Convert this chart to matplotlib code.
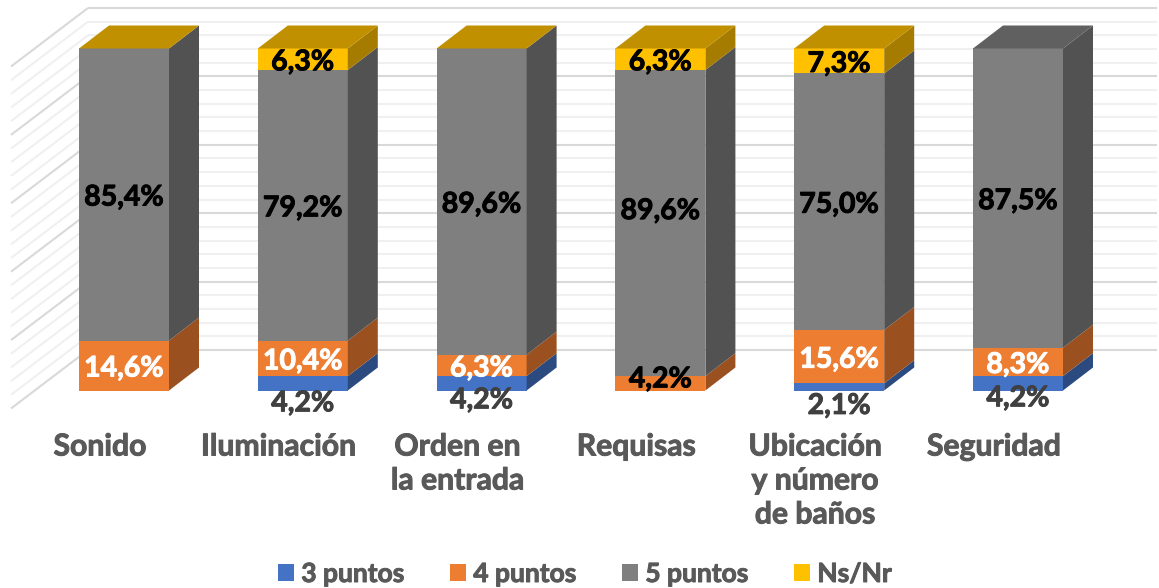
import matplotlib
matplotlib.use('Agg')
import matplotlib.pyplot as plt
import matplotlib.patheffects as pe
from matplotlib.patches import Polygon, Patch
import numpy as np

# datos (nan = la serie no existe en esa categoria, 0 = existe pero sin altura)
categorias = ['Sonido', 'Iluminación', 'Orden en\nla entrada', 'Requisas',
              'Ubicación\ny número\nde baños', 'Seguridad']
series = ['3 puntos', '4 puntos', '5 puntos', 'Ns/Nr']
tres_puntos = [0, 4.2, 4.2, 0, 2.1, 4.2]
cuatro_puntos = [14.6, 10.4, 6.3, 4.2, 15.6, 8.3]
cinco_puntos = [85.4, 79.2, 89.6, 89.6, 75.0, 87.5]
ns_nr = [0, 6.3, 0, 6.3, 7.3, np.nan]

# colores: frente, lado, tapa
frente = ['#4472C4', '#ED7D31', '#7F7F7F', '#FFC000']
lado = ['#2A4A80', '#9A501F', '#525252', '#A67C00']
tapa = ['#34589A', '#BC6325', '#606060', '#C09000']

PX_X = 178.8   # pixeles por categoria
PX_Y = 3.42    # pixeles por punto porcentual
X0, Y0 = 124, 390.5

fig = plt.figure(figsize=(11.59, 5.88), dpi=100)
ax = fig.add_axes([0, 0, 1, 1])
ax.set_xlim(-X0 / PX_X, (1159 - X0) / PX_X)
ax.set_ylim(-(588 - Y0) / PX_Y, Y0 / PX_Y)
ax.axis('off')

fuente = 'Lato'
ancho = 90 / PX_X
dx, dy = 30 / PX_X, 23 / PX_Y          # profundidad de la barra
pared_x, pared_y = -36 / PX_X, 40.5 / PX_Y   # pared del fondo respecto al frente
izq_x = (11 - X0) / PX_X
izq_y = -18 / PX_Y


def nudge(px_x, px_y):
    return px_x * 0.72, px_y * 0.72


def grueso(color, w=0.7):
    return [pe.withStroke(linewidth=w, foreground=color)]


# rejilla
for p in range(0, 101, 4):
    mayor = p % 20 == 0
    color = '#D9D9D9' if mayor else '#F0F0F0'
    y = p + pared_y
    ax.plot([pared_x, (1157 - X0) / PX_X], [y, y], color=color, lw=1.5, zorder=2 if mayor else 1,
            solid_capstyle='butt')
    ax.plot([izq_x, pared_x], [p + izq_y, y], color=color, lw=1.5, zorder=2 if mayor else 1,
            solid_capstyle='butt')

# barras
valores = np.array([tres_puntos, cuatro_puntos, cinco_puntos, ns_nr], dtype=float)
normal = valores / np.nansum(valores, axis=0) * 100

for i in range(len(categorias)):
    base = 0
    ultimo = 0
    x1, x2 = i - ancho / 2, i + ancho / 2
    for s in range(len(series)):
        alto = normal[s, i]
        if np.isnan(alto):
            continue
        ultimo = s
        if alto == 0:
            continue
        ax.add_patch(Polygon([(x1, base), (x2, base), (x2, base + alto), (x1, base + alto)],
                             closed=True, fc=frente[s], ec='none', zorder=5))
        ax.add_patch(Polygon([(x2, base), (x2 + dx, base + dy), (x2 + dx, base + alto + dy), (x2, base + alto)],
                             closed=True, fc=lado[s], ec='none', zorder=5))
        base += alto
    ax.add_patch(Polygon([(x1, base), (x2, base), (x2 + dx, base + dy), (x1 + dx, base + dy)],
                         closed=True, fc=tapa[ultimo], ec='none', zorder=5))

# etiquetas de datos
color_etiqueta = [
    ['#404040'] * 6,
    ['white', 'white', 'white', 'black', 'white', 'white'],
    ['black'] * 6,
    ['black'] * 6,
]
ajuste = {
    (0, 1): -17, (0, 2): -14, (0, 4): -16, (0, 5): -12,
    (1, 3): 7, (2, 3): 15,
}
base_etiq = np.nancumsum(normal, axis=0)
for s in range(len(series)):
    for i in range(len(categorias)):
        v = valores[s, i]
        if np.isnan(v) or v == 0:
            continue
        etiqueta = f'{v:.1f}'.replace('.', ',') + '%'
        ax.annotate(etiqueta, xy=(i, base_etiq[s, i] - normal[s, i] / 2),
                    xytext=nudge(0, ajuste.get((s, i), 0) - 3), textcoords='offset points',
                    ha='center', va='center', fontsize=20.5, fontweight='bold',
                    family=fuente, color=color_etiqueta[s][i], zorder=6,
                    path_effects=grueso(color_etiqueta[s][i]))

# categorias
for i, nombre in enumerate(categorias):
    ax.text(i - 24 / PX_X, -(432.5 - Y0) / PX_Y, nombre, ha='center', va='top',
            fontsize=21.7, fontweight='bold', family=fuente, color='#595959',
            linespacing=1.26, zorder=6, path_effects=grueso('#595959'))

# leyenda
handles = [Patch(fc=c, ec='none') for c in frente]
ley = ax.legend(handles, series, loc='center', bbox_to_anchor=(585 / 1159, 1 - 574 / 588),
                ncol=4, frameon=False, handlelength=0.6, handleheight=0.6, handletextpad=0.27,
                columnspacing=1.75, prop={'family': fuente, 'weight': 'bold', 'size': 19},
                labelcolor='#595959')
for t in ley.get_texts():
    t.set_path_effects(grueso('#595959'))

fig.savefig('out.png', dpi=100)
